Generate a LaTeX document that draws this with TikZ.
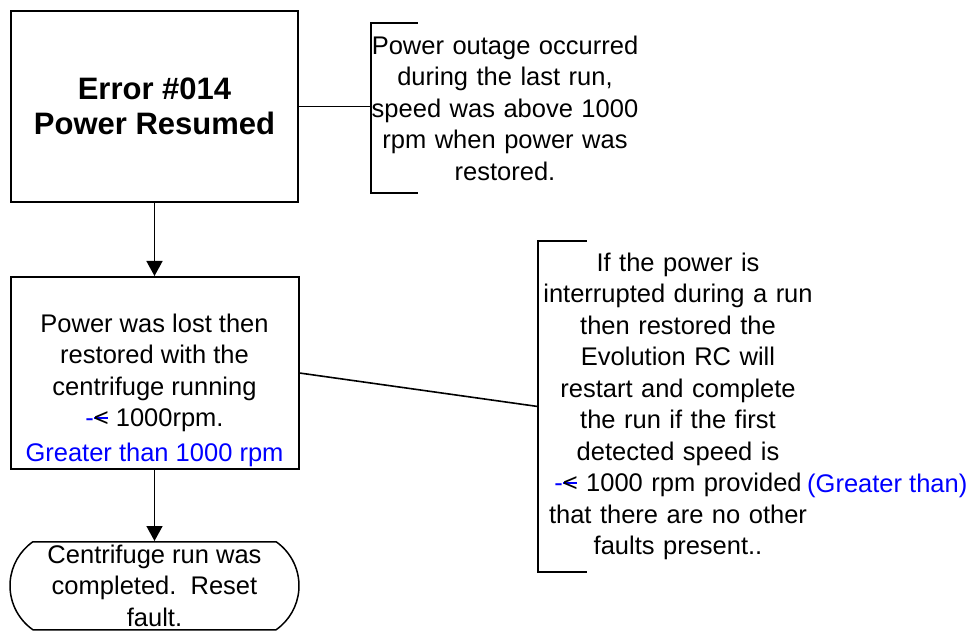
\documentclass[tikz,border=0pt]{standalone}
\usepackage{fontspec}
\setmainfont{Liberation Sans}
\usepackage{xcolor}
\usetikzlibrary{arrows.meta,positioning,shapes.misc,calc}

\newcommand{\bodyfont}{\fontsize{25.5}{31.5}\selectfont}
\newcommand{\gtsign}{\textcolor{blue}{-}\rlap{\textcolor{blue}{\rule[0.3em]{0.55em}{0.07em}}}<}

\begin{document}
\begin{tikzpicture}[x=1pt, y=1pt,
  errbox/.style={draw, line width=2pt, rectangle, minimum width=287pt, minimum height=191pt, align=center, font=\fontsize{31}{35}\selectfont\bfseries},
  stepbox/.style={draw, line width=2pt, rectangle, minimum width=288pt, minimum height=192pt, align=center, font=\bodyfont, inner sep=0pt},
  endbox/.style={draw, line width=1.5pt, rounded rectangle, rounded rectangle arc length=110, minimum width=289pt, minimum height=88pt, align=center, font=\bodyfont, inner sep=0pt},
  note/.style={align=center, font=\bodyfont, inner sep=0pt},
  bluetxt/.style={text=blue, font=\bodyfont, inner sep=0pt},
  arr/.style={-{Triangle[length=15pt,width=16pt]}, line width=1.6pt},
  lnk/.style={line width=1.6pt}
]
\useasboundingbox (0,0) rectangle (979,632);

% main flow (left column)
\node[errbox] (err) at (154.5,525.5) {Error \#014\\Power Resumed};
\node[stepbox, below=73pt of err] (lost) {Power was lost then\\restored with the\\centrifuge running\\\gtsign{} 1000rpm.};
\node[bluetxt] (lostgt) at ([yshift=15pt]lost.south) {Greater than 1000 rpm};
\node[endbox, below=71pt of lost] (done) {Centrifuge run was\\completed.\ \ Reset\\fault.};

% annotations (bracketed)
\node[note, text width=268pt, minimum height=170pt] (outage) at (505,524) {Power outage occurred\\during the last run,\\speed was above 1000\\rpm when power was\\restored.};
\node[note, text width=280pt, minimum height=331pt] (restart) at (678,225.5) {If the power is\\interrupted during a run\\then restored the\\Evolution RC will\\restart and complete\\the run if the first\\detected speed is\\\gtsign{} 1000 rpm provided\\that there are no other\\faults present..};
\node[bluetxt, anchor=west] (restartgt) at (807,146) {(Greater than)};

\draw[lnk] ([xshift=47pt]outage.north west) -- (outage.north west) -- (outage.south west) -- ([xshift=47pt]outage.south west);
\draw[lnk] ([xshift=49pt]restart.north west) -- (restart.north west) -- (restart.south west) -- ([xshift=49pt]restart.south west);

% connectors
\draw[arr] (err.south) -- (lost.north);
\draw[arr] (lost.south) -- (done.north);
\draw[lnk] (err.east) -- (err.east -| outage.west);
\draw[lnk] (lost.east) -- (restart.west);

\end{tikzpicture}
\end{document}
